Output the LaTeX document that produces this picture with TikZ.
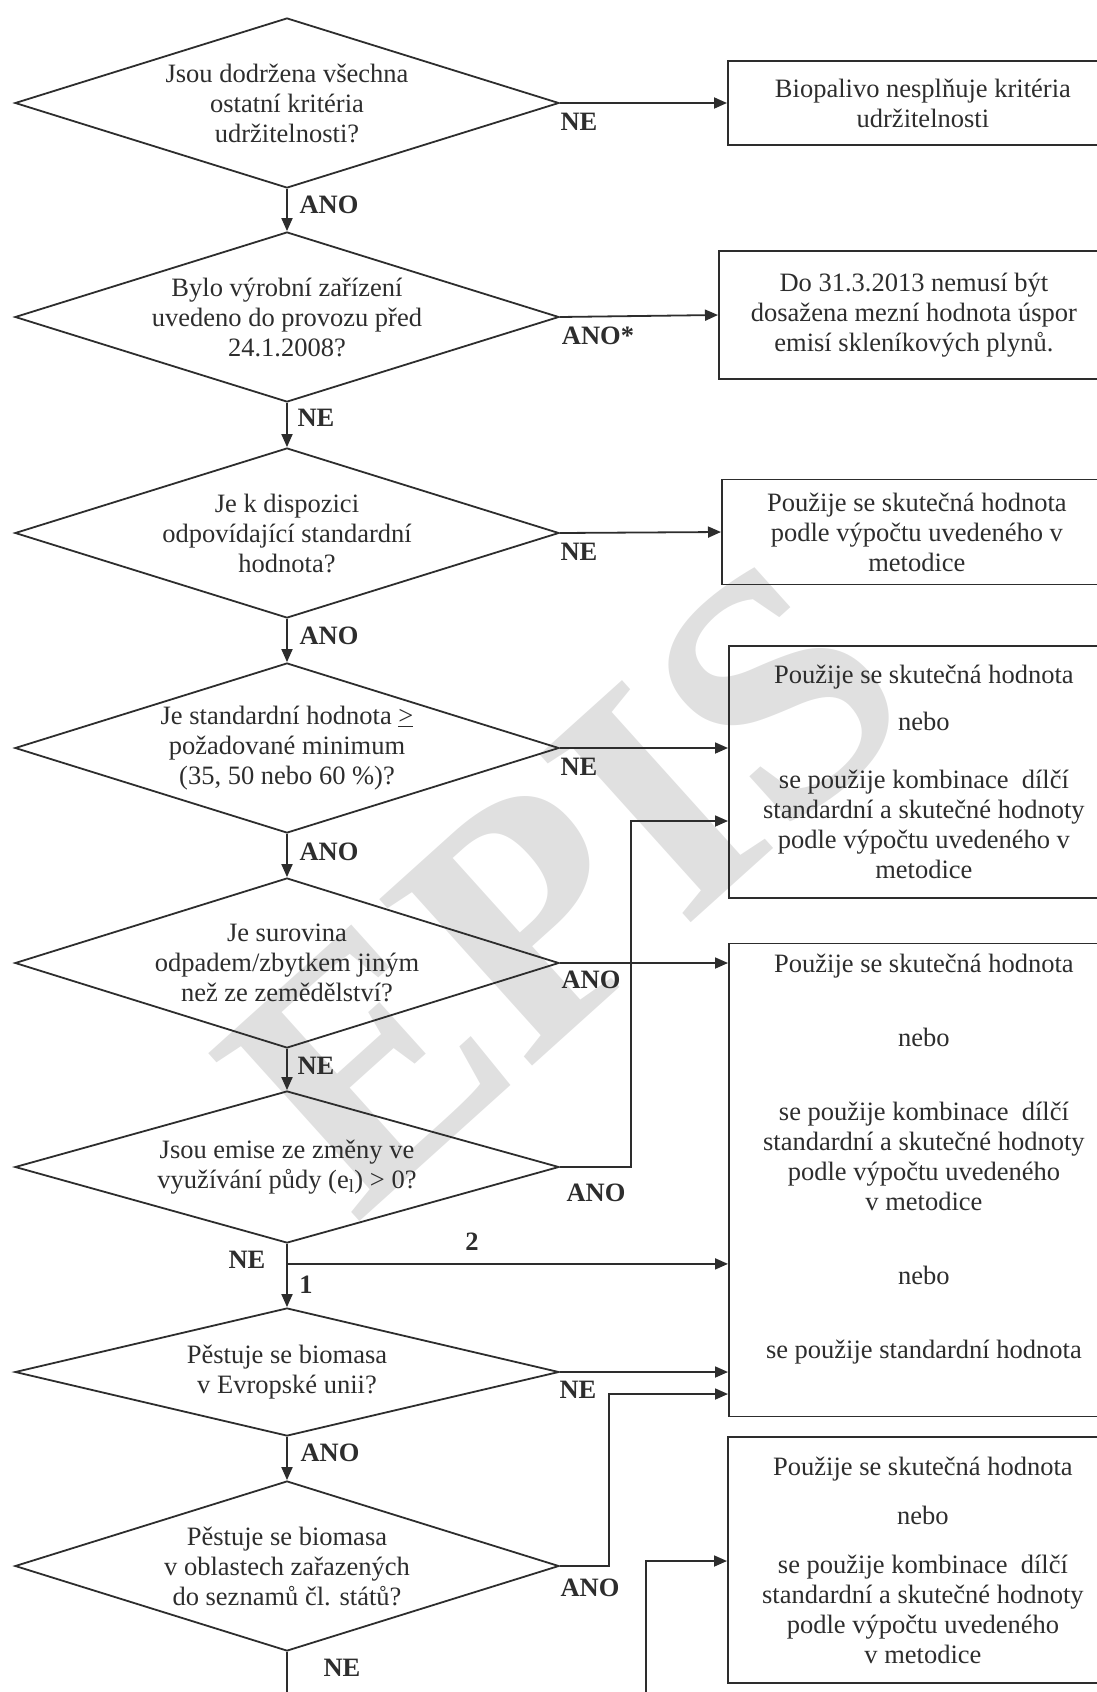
\documentclass[tikz,border=0pt]{standalone}
\usepackage{fontspec}
\setmainfont{Liberation Serif}
\usetikzlibrary{shapes.geometric,arrows.meta,calc,positioning}
\definecolor{inkgray}{RGB}{45,45,45}
\definecolor{markgray}{RGB}{224,224,224}

\begin{document}
\begin{tikzpicture}[
    x=1pt, y=-1pt,
    every node/.style={font=\fontsize{26.5}{30}\selectfont, text=inkgray},
    decision/.style={diamond, draw=inkgray, line width=1.8pt, shape aspect=3.2,
        minimum width=544pt, minimum height=170pt, inner sep=0pt, align=center},
    outcome/.style={rectangle, draw=inkgray, line width=1.8pt, minimum width=390pt,
        inner sep=0pt, align=center, anchor=west},
    answer/.style={font=\fontsize{26.5}{30}\selectfont\bfseries},
    flow/.style={draw=inkgray, line width=1.8pt, -{Triangle[length=13pt,width=11pt]}},
    wire/.style={draw=inkgray, line width=1.8pt}
]
    \clip (0,0) rectangle (1097,1692);

    % Watermark
    \node[rotate=42, text=markgray, font=\fontsize{345}{345}\selectfont\bfseries] (wm) at (565,885) {EPIS};

    % Decisions
    \node[decision] (d1) at (287,103) {Jsou dodržena všechna\\ostatní kritéria\\udržitelnosti?};
    \node[decision] (d2) at (287,317) {Bylo výrobní zařízení\\uvedeno do provozu před\\24.1.2008?};
    \node[decision] (d3) at (287,533) {Je k dispozici\\odpovídající standardní\\hodnota?};
    \node[decision] (d4) at (287,748) {Je standardní hodnota \underline{>}\\požadované minimum\\(35, 50 nebo 60 \%)?};
    \node[decision] (d5) at (287,963) {Je surovina\\odpadem/zbytkem jiným\\než ze zemědělství?};
    \node[decision, minimum height=152pt] (d6) at (287,1167) {Jsou emise ze změny ve\\využívání půdy (e\textsubscript{l}) > 0?};
    \node[decision, minimum height=128pt] (d7) at (287,1372) {Pěstuje se biomasa\\v Evropské unii?};
    \node[decision] (d8) at (287,1566) {Pěstuje se biomasa\\v oblastech zařazených\\do seznamů čl. států?};

    % Outcomes
    \node[outcome, minimum height=84pt] (b1) at (727,103) {Biopalivo nesplňuje kritéria\\udržitelnosti};
    \node[outcome, minimum height=128pt] (b2) at (718,315) {Do 31.3.2013 nemusí být\\dosažena mezní hodnota úspor\\emisí skleníkových plynů.};
    \node[outcome, minimum height=105pt] (b3) at (721,532) {Použije se skutečná hodnota\\podle výpočtu uvedeného v\\metodice};
    \node[outcome, minimum height=252pt] (b4) at (728,772) {Použije se skutečná hodnota\\[17pt]nebo\\[28pt]se použije kombinace\ \ dílčí\\standardní a skutečné hodnoty\\podle výpočtu uvedeného v\\metodice};
    \node[outcome, minimum height=473pt] (b5) at (728,1180) {Použije se skutečná hodnota\\[44pt]nebo\\[44pt]se použije kombinace\ \ dílčí\\standardní a skutečné hodnoty\\podle výpočtu uvedeného\\v metodice\\[44pt]nebo\\[44pt]se použije standardní hodnota\\[8pt]\strut};
    \node[outcome, minimum height=246pt] (b6) at (727,1560) {Použije se skutečná hodnota\\[19pt]nebo\\[19pt]se použije kombinace\ \ dílčí\\standardní a skutečné hodnoty\\podle výpočtu uvedeného\\v metodice};

    % Main column
    \draw[flow] (d1.south) -- (d2.north);
    \draw[flow] (d2.south) -- (d3.north);
    \draw[flow] (d3.south) -- (d4.north);
    \draw[flow] (d4.south) -- (d5.north);
    \draw[flow] (d5.south) -- (d6.north);
    \draw[flow] (d6.south) -- (d7.north);
    \coordinate (fork) at ($(d6.south)+(0,20)$);
    \draw[flow] (fork) -- (fork -| b5.west);
    \draw[flow] (d7.south) -- (d8.north);
    \coordinate (exit8) at (287,1700);
    \draw[wire] (d8.south) -- (exit8);

    % Side branches
    \draw[flow] (d1.east) -- (b1.west);
    \draw[flow] (d2.east) -- (b2.west);
    \draw[flow] (d3.east) -- (b3.west);
    \draw[flow] (d4.east) -- (d4.east -| b4.west);
    \draw[flow] (d5.east) -- (d5.east -| b5.west);
    \draw[flow] (d6.east) -- ++(71,0) |- (b4.west |- 0,821);
    \draw[flow] (d7.east) -- (d7.east -| b5.west);
    \draw[flow] (d8.east) -- ++(49,0) |- (b5.west |- 0,1394);
    \coordinate (entry6) at (646,1700);
    \draw[flow] (entry6) |- (b6.west |- 0,1561);

    % Answers
    \node[answer] (n1) at (579,122) {NE};
    \node[answer] (a1) at (329,205) {ANO};
    \node[answer] (a2) at (598,336) {ANO*};
    \node[answer] (n2) at (316,418) {NE};
    \node[answer] (n3) at (579,552) {NE};
    \node[answer] (a3) at (329,636) {ANO};
    \node[answer] (n4) at (579,767) {NE};
    \node[answer] (a4) at (329,852) {ANO};
    \node[answer] (a5) at (591,980) {ANO};
    \node[answer] (n5) at (316,1066) {NE};
    \node[answer] (a6) at (596,1193) {ANO};
    \node[answer] (two) at (472,1242) {2};
    \node[answer] (n6) at (247,1260) {NE};
    \node[answer] (one) at (306,1285) {1};
    \node[answer] (n7) at (578,1390) {NE};
    \node[answer] (a7) at (330,1453) {ANO};
    \node[answer] (a8) at (590,1588) {ANO};
    \node[answer] (n8) at (342,1668) {NE};
\end{tikzpicture}
\end{document}
